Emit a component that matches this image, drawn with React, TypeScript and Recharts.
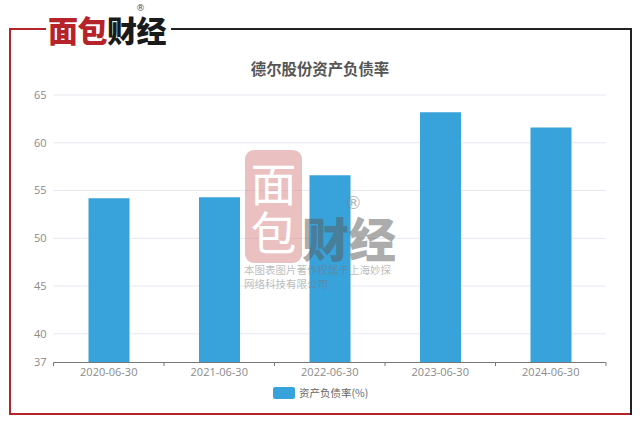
import React from "react";
import { BarChart, Bar, XAxis, YAxis, CartesianGrid } from "recharts";

const categories = ["2020-06-30", "2021-06-30", "2022-06-30", "2023-06-30", "2024-06-30"];
const debtRatio = [54.2, 54.3, 56.6, 63.2, 61.6];
const yTicks = [37, 40, 45, 50, 55, 60, 65];
const seriesName = "资产负债率(%)";
const chartTitle = "德尔股份资产负债率";
const data = categories.map((date, i) => ({ date, value: debtRatio[i] }));

const FONT = '"Noto Sans CJK SC", "Open Sans", sans-serif';
const TICK_FONT = '"Open Sans", "Noto Sans", sans-serif';
const MARK_FONT = '"DejaVu Sans", sans-serif';
const BLUE = "#38a2db";
const RED = "#b5232b";

const abs = (s: React.CSSProperties): React.CSSProperties => ({ position: "absolute", whiteSpace: "nowrap", ...s });

function XTick(props: any) {
  const { x, payload } = props;
  const band = 110.5;
  const isLast = payload.index === categories.length - 1;
  return (
    <g>
      <line x1={x - band / 2} x2={x - band / 2} y1={362.5} y2={366} stroke="#777" />
      {isLast && <line x1={x + band / 2} x2={x + band / 2} y1={362.5} y2={366} stroke="#777" />}
      <text x={x} y={376} textAnchor="middle" fontSize={11} fill="#8a8a8a" fontFamily={TICK_FONT}>
        {payload.value}
      </text>
    </g>
  );
}

export default function App() {
  return (
    <div style={{ position: "absolute", left: 0, top: 0, width: 640, height: 424, background: "#fff", overflow: "hidden", fontFamily: FONT }}>
      {/* frame */}
      <div style={abs({ left: 9, top: 28, width: 37, height: 2, background: RED })} />
      <div style={abs({ left: 9, top: 28, width: 2, height: 387, background: RED })} />
      <div style={abs({ left: 9, top: 413, width: 622, height: 2, background: RED })} />
      <div style={abs({ left: 171, top: 28, width: 460, height: 1.5, background: "#222" })} />
      <div style={abs({ left: 630, top: 28, width: 1.5, height: 387, background: "#222" })} />

      {/* logo */}
      <div style={abs({ left: 48, top: 14, fontSize: 30, lineHeight: "30px", fontWeight: 900, letterSpacing: -0.5 })}>
        <span style={{ color: RED }}>面包</span>
        <span style={{ color: "#1a1a1a" }}>财经</span>
      </div>
      <div style={abs({ left: 136, top: 3, fontSize: 9, lineHeight: "11px", color: "#555", fontFamily: MARK_FONT })}>®</div>

      {/* title */}
      <div style={abs({ left: 0, top: 57, width: 640, textAlign: "center", fontSize: 15.4, lineHeight: "22px", fontWeight: 700, color: "#555" })}>
        {chartTitle}
      </div>

      <div style={abs({ left: 0, top: 0 })}>
        <BarChart width={640} height={424} data={data} margin={{ top: 95, right: 34, bottom: 0, left: 0 }}>
          <CartesianGrid vertical={false} stroke="#e6e8f1" />
          <XAxis dataKey="date" interval={0} stroke="#777" tickLine={false} tick={<XTick />} height={61.5} />
          <YAxis
            domain={[37, 65]}
            ticks={yTicks}
            interval={0}
            type="number"
            width={53.5}
            axisLine={false}
            tickLine={false}
            tick={{ fontSize: 11, fill: "#8a8a8a", fontFamily: TICK_FONT }}
            tickMargin={1}
          />
          <Bar dataKey="value" name={seriesName} fill={BLUE} barSize={41} isAnimationActive={false} />
        </BarChart>
      </div>

      {/* legend */}
      <div style={abs({ left: 273, top: 387, width: 22, height: 12, borderRadius: 2, background: BLUE })} />
      <div style={abs({ left: 299, top: 384, fontSize: 10.5, lineHeight: "17px", color: "#666" })}>{seriesName}</div>

      {/* watermark */}
      <div style={abs({ left: 245, top: 150, width: 57, height: 113, borderRadius: 9, background: "rgba(214,130,130,0.5)" })} />
      <div style={abs({ left: 250, top: 157, width: 47, fontSize: 46, lineHeight: "49px", fontWeight: 400, color: "#fff", whiteSpace: "normal", textAlign: "center" })}>
        面包
      </div>
      <div style={abs({ left: 302, top: 214, fontSize: 47, lineHeight: "46px", fontWeight: 900, color: "rgba(90,90,90,0.5)" })}>财经</div>
      <div style={abs({ left: 345, top: 193, fontSize: 17, lineHeight: "20px", color: "rgba(130,130,130,0.6)", fontFamily: MARK_FONT })}>®</div>
      <div style={abs({ left: 244, top: 263, fontSize: 10.5, lineHeight: "14px", color: "rgba(120,120,120,0.5)" })}>本图表图片著作权属于上海妙探</div>
      <div style={abs({ left: 244, top: 277, fontSize: 10.5, lineHeight: "14px", color: "rgba(120,120,120,0.5)" })}>网络科技有限公司</div>
    </div>
  );
}
